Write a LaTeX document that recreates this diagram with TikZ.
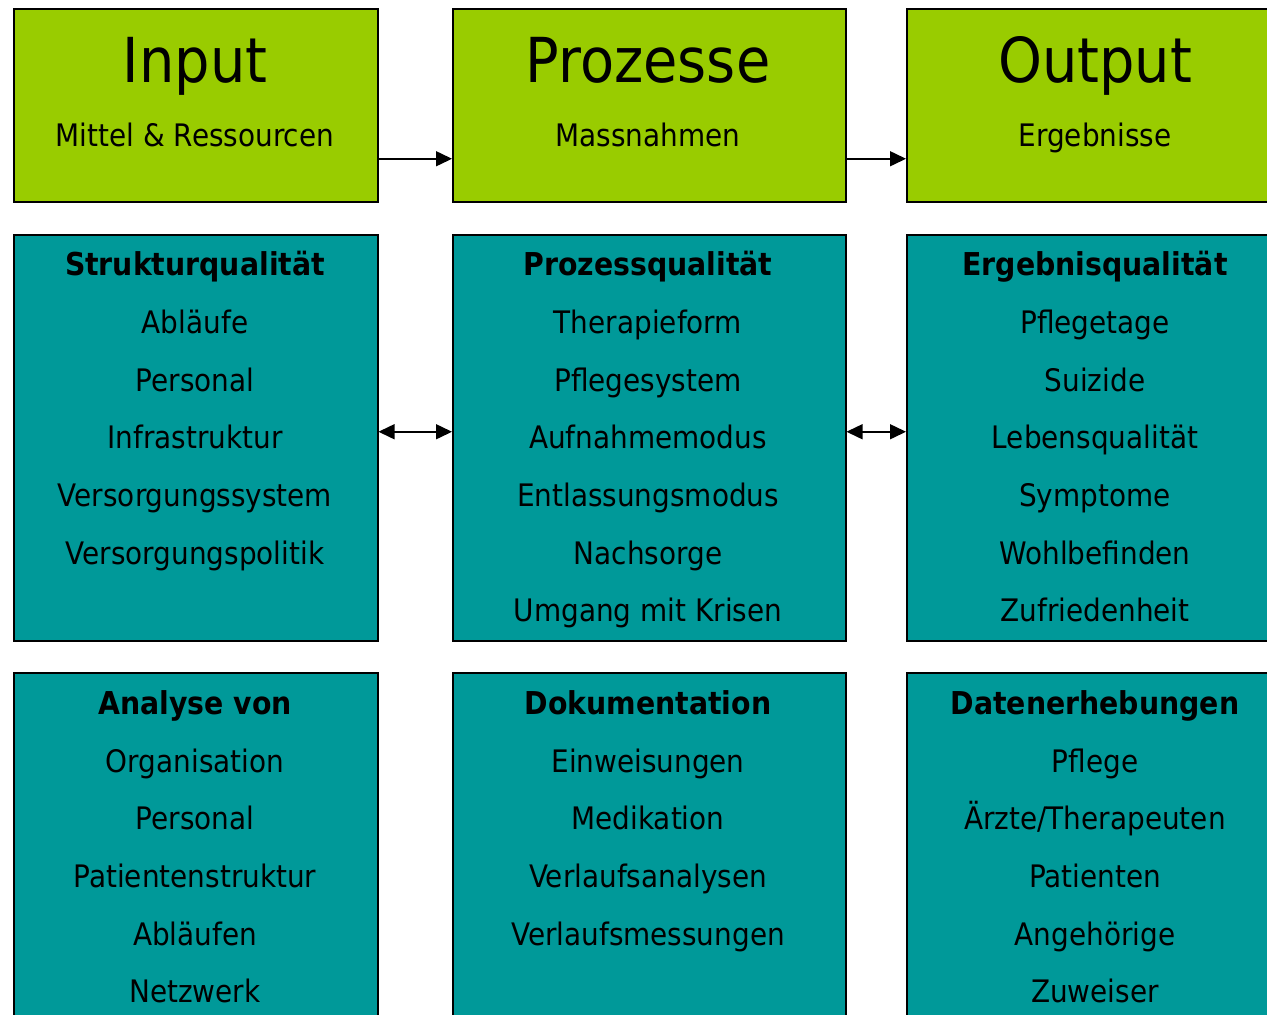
\documentclass[tikz,border=0pt]{standalone}
\usepackage{fontspec}
\setmainfont{DejaVu Sans}[FakeStretch=0.9]
\usetikzlibrary{arrows.meta}
\definecolor{lgreen}{RGB}{153,204,0}
\definecolor{teal2}{RGB}{0,153,153}
\tikzset{
  box/.style={draw=black, line width=1.5pt, inner sep=0pt, anchor=north west},
  gbox/.style={box, fill=lgreen},
  tbox/.style={box, fill=teal2},
  txt/.style={anchor=base, inner sep=0pt, font=\fontsize{31}{36}\selectfont},
  hd/.style={txt, font=\fontsize{31.5}{36}\selectfont\bfseries},
  ttl/.style={anchor=base, inner sep=0pt, font=\fontsize{62}{70}\selectfont},
  conn/.style={line width=1.5pt, -{Triangle[length=16pt,width=15pt]}},
  dconn/.style={line width=1.5pt, {Triangle[length=16pt,width=15pt]}-{Triangle[length=16pt,width=15pt]}}
}
\begin{document}
\begin{tikzpicture}[x=1pt,y=-1pt]
\clip (0,0) rectangle (1267,1015);
% top row
\node[gbox, minimum width=364pt, minimum height=193pt] (inp) at (13,8) {};
\node[gbox, minimum width=393pt, minimum height=193pt] (proz) at (452,8) {};
\node[gbox, minimum width=390pt, minimum height=193pt] (outp) at (906,8) {};
% middle row
\node[tbox, minimum width=364pt, minimum height=406pt] (sq) at (13,234) {};
\node[tbox, minimum width=393pt, minimum height=406pt] (pq) at (452,234) {};
\node[tbox, minimum width=390pt, minimum height=406pt] (eq) at (906,234) {};
% bottom row
\node[tbox, minimum width=364pt, minimum height=380pt] (an) at (13,672) {};
\node[tbox, minimum width=393pt, minimum height=380pt] (dok) at (452,672) {};
\node[tbox, minimum width=390pt, minimum height=380pt] (dat) at (906,672) {};
% connectors
\draw[conn] ([yshift=-53.5pt]inp.east) -- ([yshift=-53.5pt]proz.west);
\draw[conn] ([yshift=-53.5pt]proz.east) -- ([yshift=-53.5pt]outp.west);
\draw[dconn] ([yshift=6pt]sq.east) -- ([yshift=6pt]pq.west);
\draw[dconn] ([yshift=6pt]pq.east) -- ([yshift=6pt]eq.west);
% top texts
\node[ttl] (t1) at (195,82) {Input};
\node[txt] (s1) at (195,146) {Mittel \& Ressourcen};
\node[ttl] (t2) at (648,82) {Prozesse};
\node[txt] (s2) at (648,146) {Massnahmen};
\node[ttl] (t3) at (1095,82) {Output};
\node[txt] (s3) at (1095,146) {Ergebnisse};
% middle texts
\node[hd] (a0) at (195,275) {Strukturqualität};
\node[txt] (a1) at (195,333) {Abläufe};
\node[txt] (a2) at (195,391) {Personal};
\node[txt] (a3) at (195,448) {Infrastruktur};
\node[txt] (a4) at (195,506) {Versorgungssystem};
\node[txt] (a5) at (195,564) {Versorgungspolitik};
\node[hd] (b0) at (648,275) {Prozessqualität};
\node[txt] (b1) at (648,333) {Therapieform};
\node[txt] (b2) at (648,391) {Pflegesystem};
\node[txt] (b3) at (648,448) {Aufnahmemodus};
\node[txt] (b4) at (648,506) {Entlassungsmodus};
\node[txt] (b5) at (648,564) {Nachsorge};
\node[txt] (b6) at (648,621) {Umgang mit Krisen};
\node[hd] (c0) at (1095,275) {Ergebnisqualität};
\node[txt] (c1) at (1095,333) {Pflegetage};
\node[txt] (c2) at (1095,391) {Suizide};
\node[txt] (c3) at (1095,448) {Lebensqualität};
\node[txt] (c4) at (1095,506) {Symptome};
\node[txt] (c5) at (1095,564) {Wohlbefinden};
\node[txt] (c6) at (1095,621) {Zufriedenheit};
% bottom texts
\node[hd] (d0) at (195,714) {Analyse von};
\node[txt] (d1) at (195,772) {Organisation};
\node[txt] (d2) at (195,829) {Personal};
\node[txt] (d3) at (195,887) {Patientenstruktur};
\node[txt] (d4) at (195,945) {Abläufen};
\node[txt] (d5) at (195,1002) {Netzwerk};
\node[hd] (e0) at (648,714) {Dokumentation};
\node[txt] (e1) at (648,772) {Einweisungen};
\node[txt] (e2) at (648,829) {Medikation};
\node[txt] (e3) at (648,887) {Verlaufsanalysen};
\node[txt] (e4) at (648,945) {Verlaufsmessungen};
\node[hd] (f0) at (1095,714) {Datenerhebungen};
\node[txt] (f1) at (1095,772) {Pflege};
\node[txt] (f2) at (1095,829) {Ärzte/Therapeuten};
\node[txt] (f3) at (1095,887) {Patienten};
\node[txt] (f4) at (1095,945) {Angehörige};
\node[txt] (f5) at (1095,1002) {Zuweiser};
\end{tikzpicture}
\end{document}
